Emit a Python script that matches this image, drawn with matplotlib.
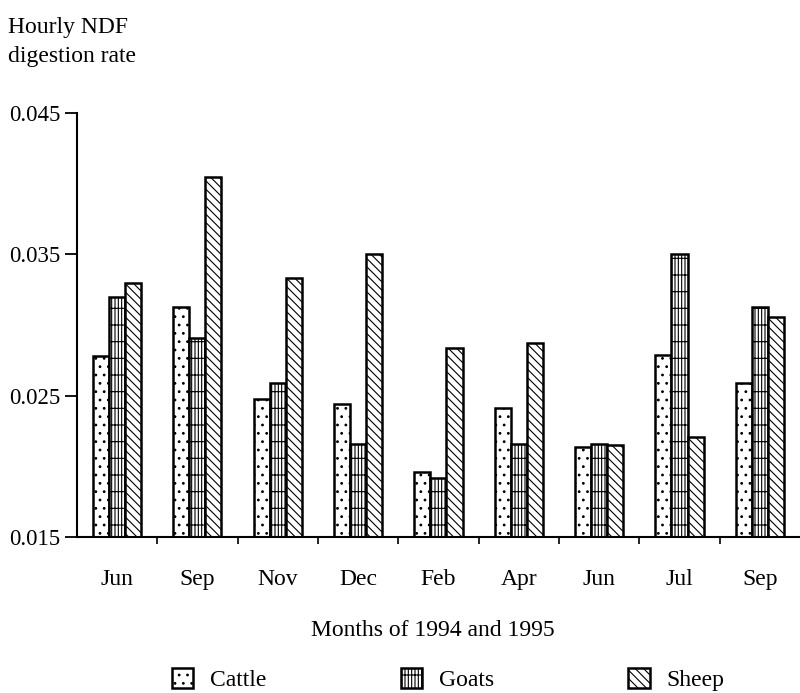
import numpy as np
import matplotlib
matplotlib.use("Agg")
from matplotlib import pyplot as plt

months = ["Jun", "Sep", "Nov", "Dec", "Feb", "Apr", "Jun", "Jul", "Sep"]
cattle = [0.0278, 0.0313, 0.0248, 0.0244, 0.0196, 0.0241, 0.0214, 0.0279, 0.0259]
goats = [0.0320, 0.0291, 0.0259, 0.0216, 0.0192, 0.0216, 0.0216, 0.0350, 0.0313]
sheep = [0.0330, 0.0405, 0.0333, 0.0350, 0.0284, 0.0287, 0.0215, 0.0221, 0.0306]
yticks = [0.015, 0.025, 0.035, 0.045]

plt.rcParams['font.family'] = ['Liberation Serif', 'DejaVu Serif']
plt.rcParams['hatch.linewidth'] = 0.8

fig = plt.figure(figsize=(8, 6.93), dpi=100)
ax = fig.add_axes([0.096, 0.225, 0.904, 0.612])

x = np.arange(len(months))
w = 0.2
base = 0.015
series = [(cattle, '..', "Cattle"), (goats, '|||||-', "Goats"), (sheep, '\\\\\\\\', "Sheep")]
for i, (vals, hatch, name) in enumerate(series):
    heights = [v - base for v in vals]
    ax.bar(x + (i - 1) * w, heights, w, bottom=base, color='white',
           edgecolor='black', linewidth=1.8, hatch=hatch, label=name)

ax.set_xlim(-0.5, 8.5)
ax.set_ylim(0.015, 0.045)
ax.set_yticks(yticks)
ax.set_yticklabels(["0.015", "0.025", "0.035", "0.045"], fontsize=16.5)
ax.set_xticks(x[:-1] + 0.5)
ax.set_xticklabels([])
ax.tick_params(axis='x', length=5, width=1.2, direction='out')
ax.tick_params(axis='y', length=9, width=1.3, direction='out', pad=3)
for i, m in enumerate(months):
    ax.text(i, 0.0120, m, ha='center', va='center', fontsize=17)

ax.spines['top'].set_visible(False)
ax.spines['right'].set_visible(False)
ax.spines['left'].set_linewidth(1.5)
ax.spines['bottom'].set_linewidth(1.5)

fig.text(0.010, 0.975, "Hourly NDF\ndigestion rate", fontsize=17, va='top',
         ha='left', linespacing=1.45)
fig.text(0.541, 0.09, "Months of 1994 and 1995", fontsize=17, ha='center', va='center')

fig.legend(loc='center', bbox_to_anchor=(0.56, 0.019), ncol=3, frameon=False,
           fontsize=17, handlelength=0.9, handleheight=0.9, columnspacing=5.7,
           handletextpad=0.7)

plt.savefig("out.png")
plt.close()
